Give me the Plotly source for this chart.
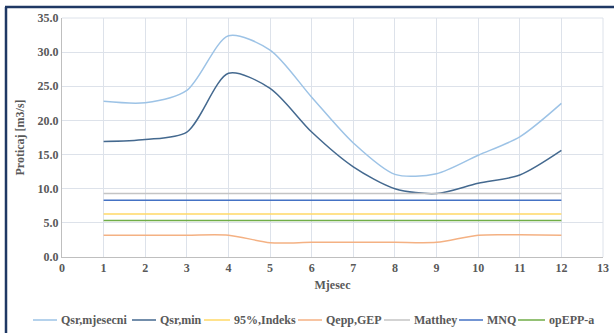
import plotly.graph_objects as go

months = [1, 2, 3, 4, 5, 6, 7, 8, 9, 10, 11, 12]
qsr_mjesecni = [22.8, 22.6, 24.4, 32.4, 30.3, 23.4, 16.7, 12.1, 12.2, 14.9, 17.6, 22.5]
qsr_min = [16.9, 17.2, 18.3, 26.9, 24.7, 18.3, 13.2, 10.0, 9.3, 10.8, 12.0, 15.6]
indeks95 = [6.3] * 12
qepp_gep = [3.2, 3.2, 3.2, 3.2, 2.1, 2.15, 2.15, 2.15, 2.15, 3.2, 3.25, 3.2]
matthey = [9.3] * 12
mnq = [8.3] * 12
opepp_a = [5.35] * 12

names = ["Qsr,mjesecni", "Qsr,min", "95%,Indeks", "Qepp,GEP", "Matthey", "MNQ", "opEPP-a"]
values = [qsr_mjesecni, qsr_min, indeks95, qepp_gep, matthey, mnq, opepp_a]
colors = ["#9DC3E6", "#44698F", "#FFD966", "#F4B183", "#C4C4C4", "#4472C4", "#70AD47"]

FONT = "Liberation Serif"
GREY = "#595959"

# plot area geometry (px)
L, R, T, B = 62, 603, 18, 257
W, H = R - L, B - T


def px(x):
    return (x - L) / W


def py(y):
    return (B - y) / H


fig = go.Figure()
for name, vals, col in zip(names, values, colors):
    fig.add_trace(go.Scatter(
        x=months, y=vals, name=name, mode="lines",
        line=dict(color=col, width=1.5, shape="spline", smoothing=0.8),
        showlegend=False, hoverinfo="skip",
    ))

shapes = [
    dict(type="line", xref="paper", yref="paper",
         x0=px(5), x1=px(620), y0=py(7), y1=py(7),
         line=dict(color="#1F3864", width=2.5)),
    dict(type="line", xref="paper", yref="paper",
         x0=px(6), x1=px(6), y0=py(7), y1=py(340),
         line=dict(color="#1F3864", width=2.5)),
    dict(type="line", xref="paper", yref="paper",
         x0=1, x1=1, y0=0, y1=1, line=dict(color="#DDE2EA", width=1)),
    dict(type="line", xref="paper", yref="paper",
         x0=0, x1=1, y0=1, y1=1, line=dict(color="#DDE2EA", width=1)),
]
annotations = []

# manual legend (pixel layout)
leg_line_start = [33, 132, 204, 298, 384, 459, 518]
leg_line_end = [57, 156, 230, 322, 410, 483, 545]
leg_y = 320
for name, col, x0, x1 in zip(names, colors, leg_line_start, leg_line_end):
    shapes.append(dict(type="line", xref="paper", yref="paper",
                       x0=px(x0), x1=px(x1), y0=py(leg_y), y1=py(leg_y),
                       line=dict(color=col, width=1.5)))
    annotations.append(dict(xref="paper", yref="paper", x=px(x1 + 2), y=py(leg_y),
                            xanchor="left", yanchor="middle", showarrow=False,
                            text="<b>" + name + "</b>",
                            font=dict(family=FONT, size=12, color=GREY)))

fig.update_layout(
    width=614, height=333,
    margin=dict(l=L, r=614 - R, t=T, b=333 - B, autoexpand=False),
    paper_bgcolor="white", plot_bgcolor="white",
    font=dict(family=FONT, size=12, color=GREY),
    showlegend=False,
    xaxis=dict(
        range=[0, 13], dtick=1, tick0=0,
        showgrid=True, gridcolor="#DDE2EA", gridwidth=1,
        showline=True, linecolor="#BFBFBF", linewidth=1,
        zeroline=False, ticks="", ticklen=0,
        tickfont=dict(family=FONT, size=12, color=GREY, weight="bold"),
        title=dict(text="<b>Mjesec</b>", standoff=6,
                   font=dict(family=FONT, size=12, color=GREY)),
    ),
    yaxis=dict(
        range=[0, 35], dtick=5, tickformat=".1f",
        showgrid=True, gridcolor="#DDE2EA", gridwidth=1,
        showline=True, linecolor="#BFBFBF", linewidth=1,
        zeroline=False, ticks="",
        tickfont=dict(family=FONT, size=12, color=GREY, weight="bold"),
        title=dict(text="<b>Proticaj [m3/s]</b>", standoff=10,
                   font=dict(family=FONT, size=12, color=GREY)),
    ),
    shapes=shapes,
    annotations=annotations,
)

fig.write_html("out.html", config={"displayModeBar": False},
               post_script="document.body.style.margin='0';document.body.style.overflow='hidden';")
